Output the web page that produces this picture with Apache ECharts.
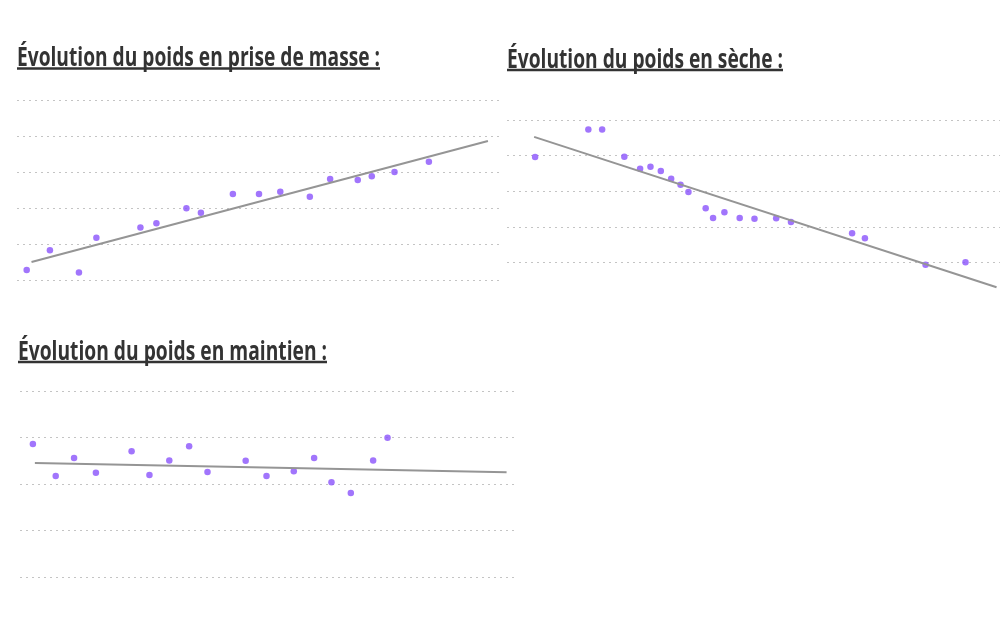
<!DOCTYPE html>
<html>
<head>
<meta charset="utf-8">
<title>Évolution du poids</title>
<script src="https://cdn.jsdelivr.net/npm/echarts@6/dist/echarts.min.js"></script>
<style>
  html, body { margin: 0; padding: 0; background: #fff; }
  #chart { width: 1000px; height: 625px; }
</style>
</head>
<body>
<div id="chart"></div>
<script>
// prise de masse (jour, kg)
var masseJours = [2.0, 6.8, 12.8, 16.4, 25.5, 28.8, 35.0, 38.0, 44.6, 50.0, 54.4, 60.5, 64.7, 70.4, 73.3, 78.0, 85.1]
var masseKg = [70.58, 71.67, 70.45, 72.37, 72.93, 73.17, 74.0, 73.76, 74.79, 74.79, 74.92, 74.64, 75.62, 75.57, 75.77, 76.01, 76.58]
var masseTendanceJours = [3.0, 97.3]
var masseTendanceKg = [71.02, 77.73]

// sèche
var secheJours = [5.7, 16.5, 19.3, 23.8, 27.0, 29.1, 31.2, 33.3, 35.2, 36.8, 40.3, 41.8, 44.1, 47.2, 50.2, 54.6, 57.6, 70.0, 72.6, 84.9, 93.0]
var secheKg = [77.92, 79.46, 79.46, 77.94, 77.27, 77.38, 77.14, 76.70, 76.37, 75.96, 75.04, 74.50, 74.82, 74.50, 74.46, 74.48, 74.27, 73.64, 73.36, 71.88, 72.01]
var secheTendanceJours = [5.5, 99.3]
var secheTendanceKg = [79.05, 70.61]

// maintien
var maintienJours = [2.6, 7.2, 10.9, 15.3, 22.5, 26.1, 30.1, 34.1, 37.8, 45.5, 49.7, 55.2, 59.3, 62.8, 66.7, 71.2, 74.1]
var maintienKg = [77.72, 76.35, 77.12, 76.49, 77.41, 76.39, 77.02, 77.63, 76.52, 77.01, 76.35, 76.55, 77.12, 76.08, 75.62, 77.02, 77.99]
var maintienTendanceJours = [3.0, 98.1]
var maintienTendanceKg = [76.91, 76.51]

var titres = ['Évolution du poids en prise de masse :', 'Évolution du poids en sèche :', 'Évolution du poids en maintien :']

var violet = '#8a52fb'
var gris = '#959595'
var titreFont = 'bold 27px "Open Sans"'

function paires(xs, ys) {
  return xs.map(function(x, i) { return [x, ys[i]] })
}

function axeX(grid) {
  return {
    type: 'value', gridIndex: grid, min: 0, max: 100,
    axisLine: { show: false }, axisTick: { show: false }, axisLabel: { show: false }, splitLine: { show: false }
  }
}

function axeY(grid, min, max) {
  return {
    type: 'value', gridIndex: grid, min: min, max: max, interval: 2,
    axisLine: { show: false }, axisTick: { show: false }, axisLabel: { show: false },
    splitLine: { show: true, lineStyle: { color: '#c4c4c4', width: 1, type: [2, 4] } }
  }
}

function tendance(idx, xs, ys) {
  return {
    type: 'line', xAxisIndex: idx, yAxisIndex: idx,
    data: paires(xs, ys),
    showSymbol: false, clip: false, silent: true,
    lineStyle: { color: gris, width: 2 }
  }
}

function points(idx, xs, ys) {
  return {
    type: 'scatter', xAxisIndex: idx, yAxisIndex: idx,
    data: paires(xs, ys),
    symbolSize: 6.5, clip: false,
    itemStyle: { color: violet }
  }
}

// titre condensé : on mesure le texte et on l'étire à la largeur voulue
var ctx = document.createElement('canvas').getContext('2d')
function titre(texte, x, y, souligne, largeur) {
  ctx.font = titreFont
  var w = ctx.measureText(texte).width
  return [
    {
      type: 'text', x: x, y: y, scaleX: largeur / w, scaleY: 1,
      style: { text: texte, font: titreFont, fill: '#333', verticalAlign: 'middle' }
    },
    {
      type: 'line', shape: { x1: x, y1: souligne, x2: x + largeur, y2: souligne },
      style: { stroke: '#333', lineWidth: 2.5 }
    }
  ]
}

var option = {
  animation: false,
  grid: [
    { left: 17, right: 499, top: 100, bottom: 344.5 },
    { left: 507, right: 0, top: 120, bottom: 362.5 },
    { left: 20, right: 484, top: 391, bottom: 47.7 }
  ],
  xAxis: [axeX(0), axeX(1), axeX(2)],
  yAxis: [axeY(0, 70, 80), axeY(1, 72, 80), axeY(2, 72, 80)],
  graphic: [].concat(
    titre(titres[0], 17, 58, 68.5, 363),
    titre(titres[1], 507, 60, 70, 276),
    titre(titres[2], 18, 352, 362, 309)
  ),
  series: [
    tendance(0, masseTendanceJours, masseTendanceKg),
    points(0, masseJours, masseKg),
    tendance(1, secheTendanceJours, secheTendanceKg),
    points(1, secheJours, secheKg),
    tendance(2, maintienTendanceJours, maintienTendanceKg),
    points(2, maintienJours, maintienKg)
  ]
}

var chart = echarts.init(document.getElementById('chart'))
chart.setOption(option)
</script>
</body>
</html>
